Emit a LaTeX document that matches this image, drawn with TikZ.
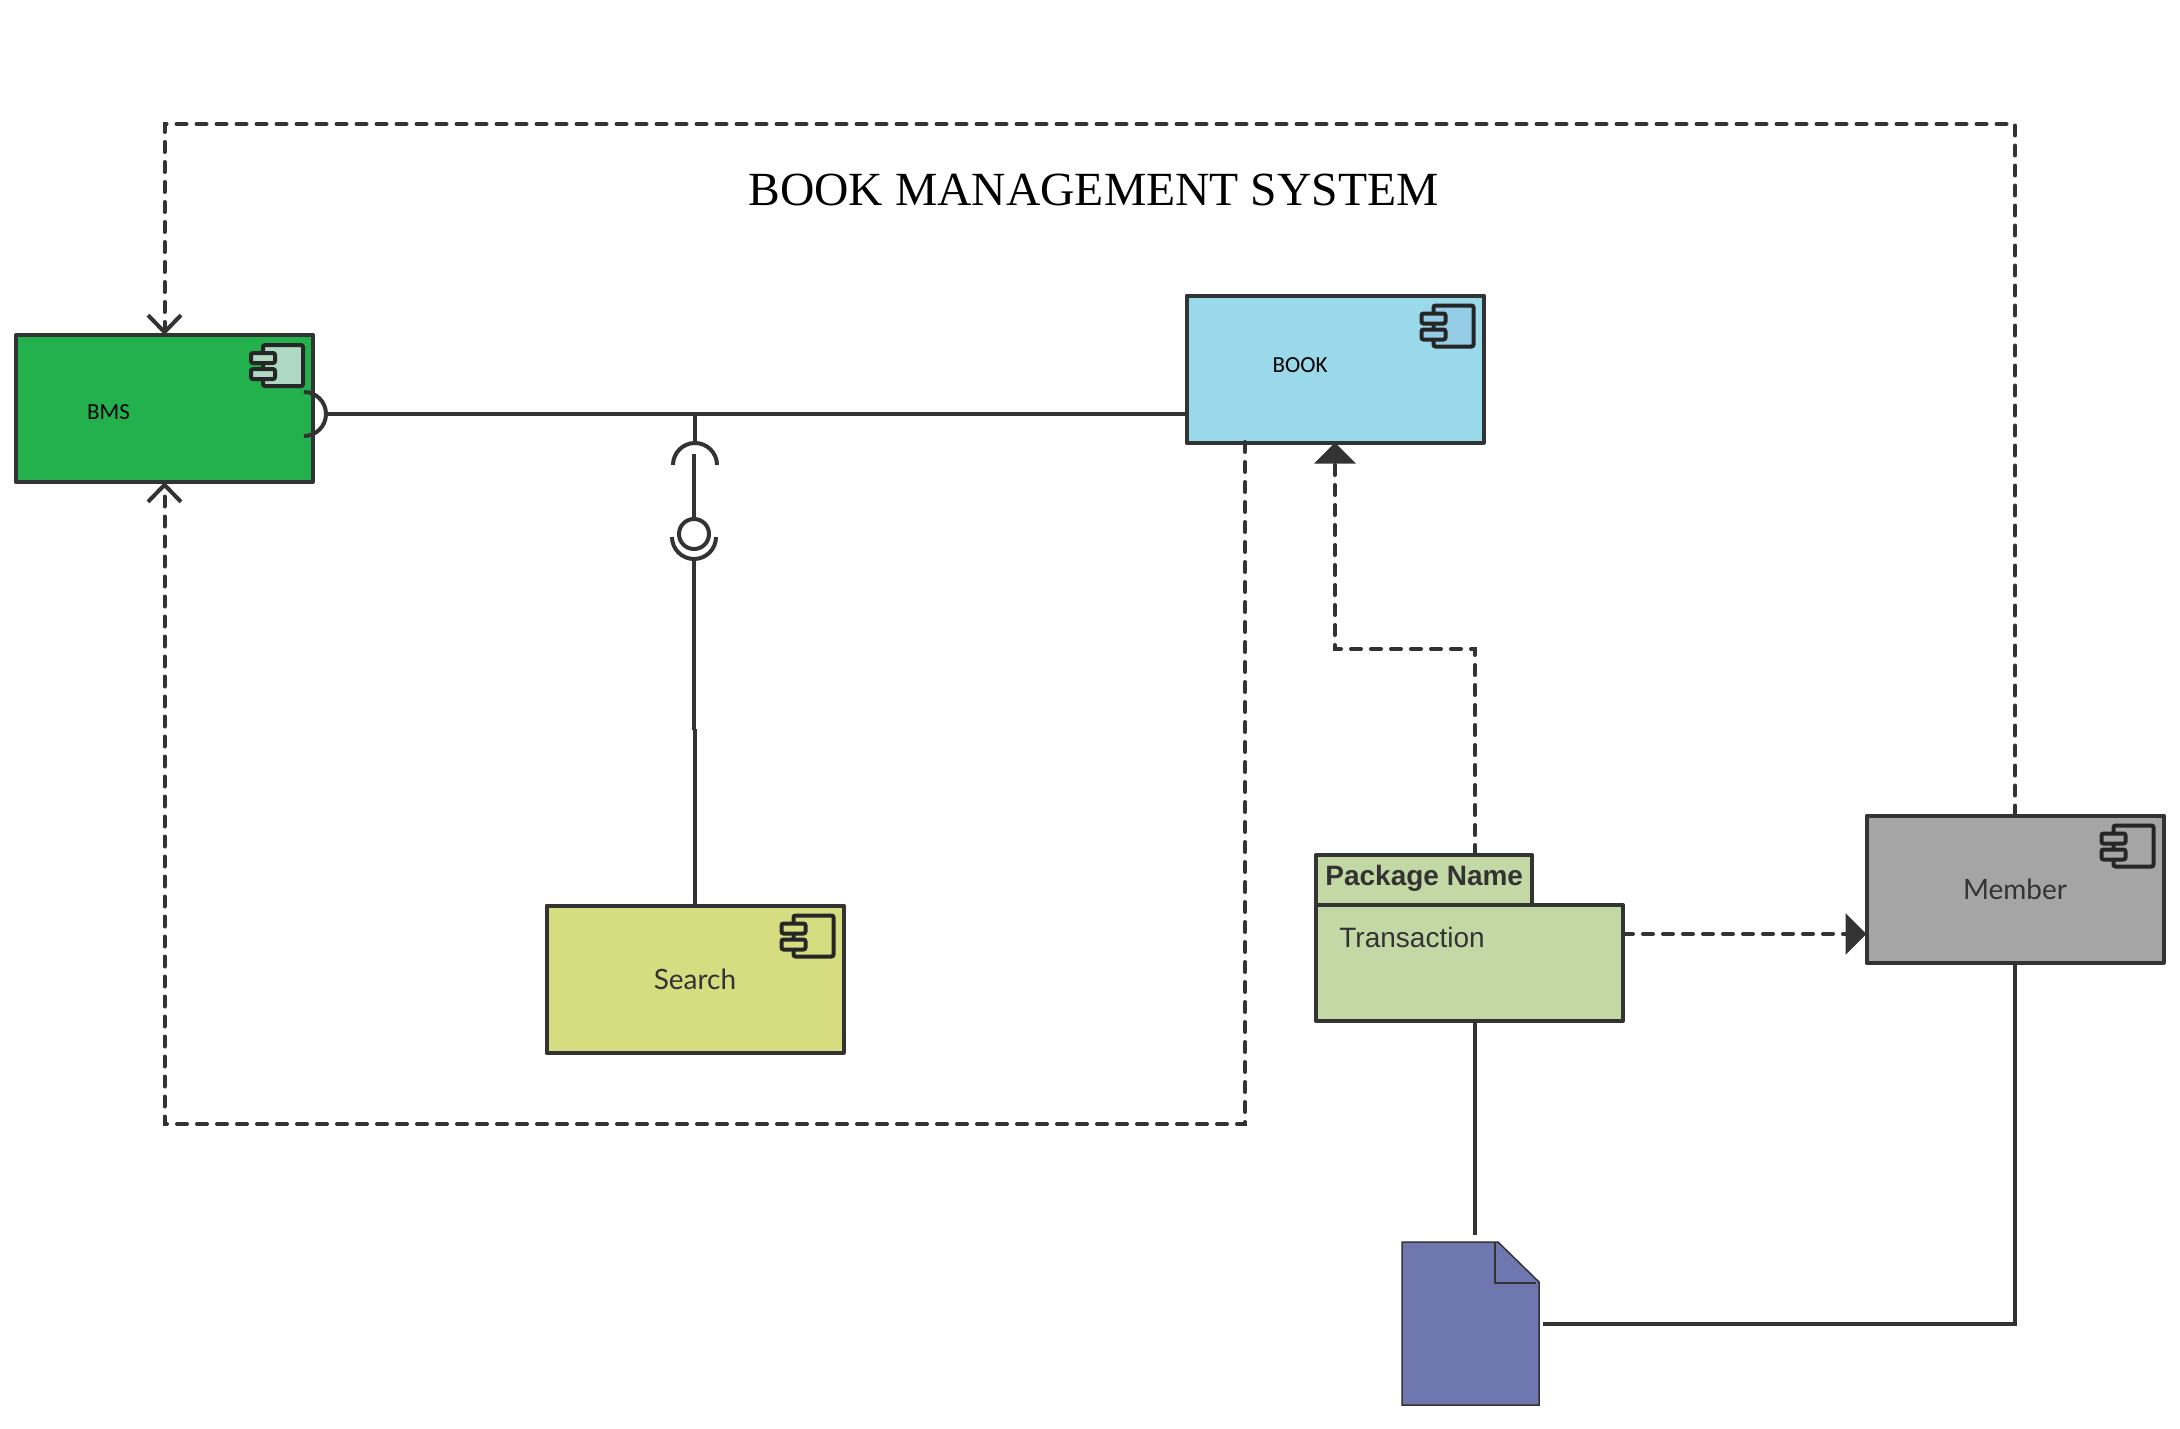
\documentclass[tikz,border=0pt]{standalone}
\usepackage{fontspec}
\setmainfont{Liberation Sans}
\newfontfamily\titlefont{Liberation Serif}
\newfontfamily\smallfont{Carlito}
\newfontfamily\labelfont{Lato}
\usetikzlibrary{arrows.meta}
\definecolor{linegray}{HTML}{333333}
\definecolor{bmsgreen}{HTML}{23B14D}
\definecolor{bmsicon}{HTML}{ADD8C2}
\definecolor{bookblue}{HTML}{99D9EA}
\definecolor{bookicon}{HTML}{96CDE6}
\definecolor{searchyellow}{HTML}{D5DD80}
\definecolor{membergray}{HTML}{A5A5A6}
\definecolor{pkggreen}{HTML}{C3D9A5}
\definecolor{docblue}{HTML}{6E77AF}
\tikzset{
  comp/.style={draw=linegray,line width=2pt,minimum width=148.5pt,minimum height=73.5pt,outer sep=0pt,inner sep=0pt,line join=round},
  pkg/.style={draw=linegray,line width=2pt,fill=pkggreen,outer sep=0pt,inner sep=0pt,line join=round},
  wire/.style={draw=linegray,line width=2pt},
  dep/.style={wire,line cap=round,dash pattern=on 5pt off 5pt},
  openhead/.style={-{Straight Barb[length=8.5pt,width=16.5pt,line width=2pt]}},
  solidhead/.style={-{Triangle[length=10.5pt,width=20.5pt]}},
  iconbox/.style={draw=black!85,line width=2pt,rounded corners=1pt},
}
\begin{document}
\begin{tikzpicture}[x=0.5pt,y=-0.5pt]
        \useasboundingbox (0,0) rectangle (2180,1429);
        % components
        \node[comp,fill=bmsgreen] (bms) at (164.5,408.5) {};
        \node[comp,fill=bookblue] (book) at (1335,369) {};
        \node[comp,fill=searchyellow,text=linegray,font=\labelfont\fontsize{14}{16}\selectfont] (search) at (695,979) {Search};
        \node[comp,fill=membergray,text=linegray,font=\labelfont\fontsize{14}{16}\selectfont] (member) at (2015,889) {Member};
        \node[font=\smallfont\fontsize{11.5}{13}\selectfont] (bmstext) at (108.5,412) {BMS};
        \node[font=\smallfont\fontsize{11.5}{13}\selectfont] (booktext) at (1300,365.5) {BOOK};
        \foreach \c/\col in {bms/bmsicon,book/bookicon,search/searchyellow,member/membergray}{
            \begin{scope}[shift={(\c.north east)}]
                \draw[iconbox,fill=\col] (-50,10) rectangle (-10,51);
                \draw[iconbox,fill=\col] (-62,18) rectangle (-38,28);
                \draw[iconbox,fill=\col] (-62,34) rectangle (-38,44);
            \end{scope}
        }
        % package
        \node[pkg,minimum width=108pt,minimum height=25pt] (pkgtab) at (1424,880) {};
        \node[pkg,minimum width=153.5pt,minimum height=58pt] (pkgbody) at (1469.5,963) {};
        \node[anchor=base west,inner sep=0pt,text=linegray,font=\bfseries\fontsize{14}{16}\selectfont] (pkgname) at (1325,885) {Package Name};
        \node[anchor=base west,inner sep=0pt,text=linegray,font=\fontsize{14}{16}\selectfont] (pkgtext) at (1339,947) {Transaction};
        % document
        \node[minimum width=68.5pt,minimum height=81.5pt,outer sep=0pt] (doc) at (1470.5,1323.5) {};
        \draw[draw=black!80,line width=0.75pt,fill=docblue] (1402,1242) -- (1498,1242) -- (1539,1282) -- (1539,1405) -- (1402,1405) -- cycle;
        \draw[draw=black!80,line width=0.75pt] (1495,1242) -- (1495,1283) -- (1536,1283);
        \node[font=\titlefont\fontsize{23.8}{28}\selectfont] (title) at (1093.5,190) {BOOK MANAGEMENT SYSTEM};
        % helper points
        \coordinate (socket) at (326,414);
        \coordinate (joint) at (695,414);
        \coordinate (topleft) at (164.5,124);
        \coordinate (bookout) at (1245,442);
        \coordinate (lowleft) at (164.5,1124);
        \coordinate (pkgup) at (1475,855);
        \coordinate (bookbend) at (1335,649);
        \coordinate (pkgout) at (1623,934);
        \coordinate (pkgdown) at (1475,1021);
        \coordinate (docup) at (1475,1235);
        \coordinate (stepup) at (694,730);
        \coordinate (stepdown) at (695,729);
        % interface symbols
        \draw[wire] (304,392) arc (-90:90:22);
        \draw[wire] (socket) -- (socket -| book.west);
        \draw[wire] (joint) -- (695,442);
        \draw[wire] (673,465) arc (180:360:22);
        \draw[wire] (694,454) -- (694,519);
        \draw[wire] (694,534) circle (15);
        \draw[wire] (672,537) arc (180:0:22);
        \draw[wire] (694,559) -- (stepup);
        \draw[wire] (stepdown) -- (search.north);
        % connectors
        \draw[dep,openhead] (member.north) |- (topleft) -- (bms.north);
        \draw[dep,openhead] (bookout) |- (lowleft) -- (bms.south);
        \draw[dep,solidhead] (pkgup) |- (bookbend) -- (book.south);
        \draw[dep,solidhead] (pkgout) -- (pkgout -| member.west);
        \draw[wire] (pkgdown) -- (docup);
        \draw[wire,shorten >=2pt] (member.south) |- (doc.east);
\end{tikzpicture}
\end{document}
